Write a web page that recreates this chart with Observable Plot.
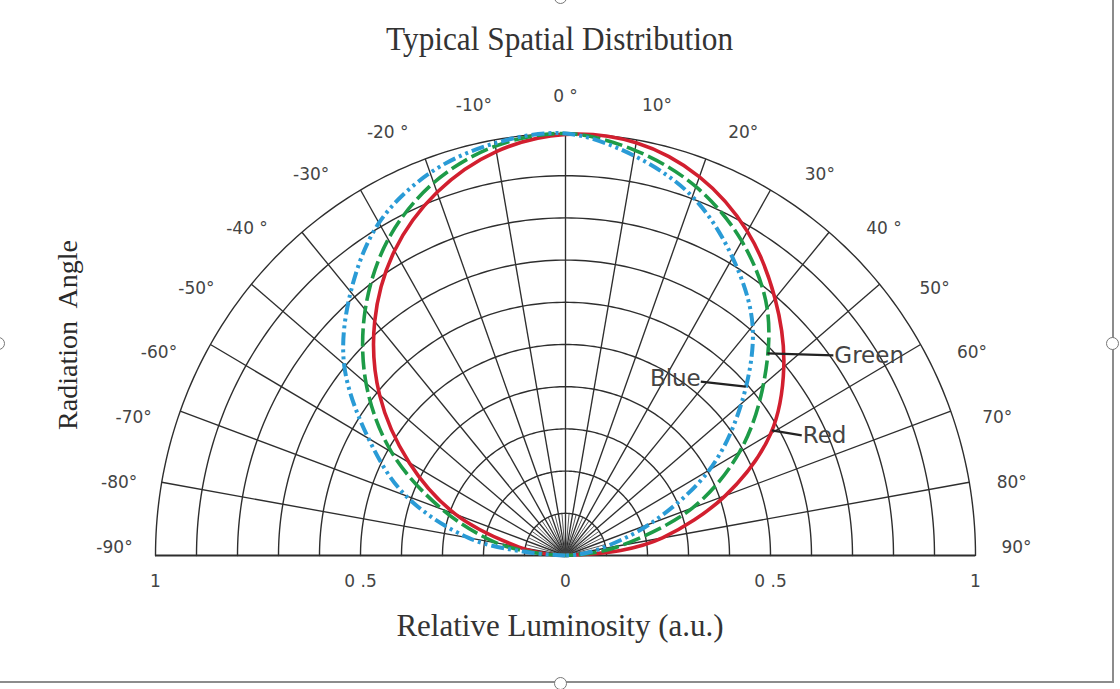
<!DOCTYPE html>
<html>
<head>
<meta charset="utf-8">
<script src="https://cdn.jsdelivr.net/npm/d3@7"></script>
<script src="https://cdn.jsdelivr.net/npm/@observablehq/plot@0.6"></script>
<style>
html,body{margin:0;padding:0;background:#fff;}
#wrap{position:relative;width:1120px;height:689px;overflow:hidden;background:#fff;}
#frame{position:absolute;left:-4px;top:-4px;width:1116px;height:685px;border-right:2px solid #8c8c8c;border-bottom:2px solid #8c8c8c;}
.handle{position:absolute;width:11px;height:11px;border:1.5px solid #777;border-radius:50%;background:#fff;}
#title{position:absolute;left:0;top:18px;width:1120px;text-align:center;font-family:"Liberation Serif","Times New Roman",serif;font-size:34px;color:#333;line-height:42px;}
#title span{display:inline-block;transform:scaleX(0.92);}
#chart{position:absolute;left:0;top:70px;}
#xlabel{position:absolute;left:0;top:607px;width:1120px;text-align:center;font-family:"Liberation Serif","Times New Roman",serif;font-size:31px;color:#333;line-height:38px;}
#ylabel{position:absolute;left:68px;top:335px;transform:translate(-50%,-50%) rotate(-90deg);white-space:pre;font-family:"Liberation Serif","Times New Roman",serif;font-size:28px;color:#2a2a2a;line-height:32px;}
</style>
</head>
<body>
<div id="wrap">
  <div id="frame"></div>
  <div class="handle" style="left:554px;top:677px;"></div>
  <div class="handle" style="left:1106px;top:337px;"></div>
  <div class="handle" style="left:-8px;top:337px;"></div>
  <div class="handle" style="left:554px;top:-9px;"></div>
  <div id="title"><span>Typical Spatial Distribution</span></div>
  <div id="chart"></div>
  <div id="xlabel">Relative Luminosity (a.u.)</div>
  <div id="ylabel">Radiation  Angle</div>
</div>
<script>
// ---------------- data ----------------
const angleTicks = [-90,-80,-70,-60,-50,-40,-30,-20,-10,0,10,20,30,40,50,60,70,80,90];
const angleTickLabels = ["-90°","-80°","-70°","-60°","-50°","-40 °","-30°","-20 °","-10°","0 °","10°","20°","30°","40 °","50°","60°","70°","80°","90°"];
const radialTicks = [-1,-0.5,0,0.5,1];
const radialTickLabels = ["1","0 .5","0","0 .5","1"];
const gridRadii = [0.1,0.2,0.3,0.4,0.5,0.6,0.7,0.8,0.9,1.0];

const redAngles = [-90,-85,-80,-70,-60,-50,-40,-30,-20,-10,0,10,20,30,40,50,60,70,80,85,90];
const redValues = [0,0.05,0.115,0.285,0.44,0.592,0.724,0.834,0.916,0.972,0.998,0.993,0.955,0.887,0.795,0.695,0.578,0.415,0.24,0.135,0];

const greenAngles = [-90,-85,-80,-70,-60,-50,-40,-30,-20,-10,0,10,20,30,40,50,60,70,80,85,90];
const greenValues = [0,0.07,0.17,0.32,0.49,0.635,0.76,0.865,0.94,0.985,1.0,0.975,0.93,0.86,0.765,0.63,0.49,0.33,0.14,0.06,0];

const blueAngles = [-90,-85,-80,-70,-60,-50,-40,-30,-20,-10,0,10,20,30,40,50,60,70,80,85,90];
const blueValues = [0,0.1,0.24,0.415,0.555,0.705,0.815,0.91,0.965,0.992,1.0,0.962,0.905,0.815,0.71,0.56,0.405,0.22,0.08,0.035,0];

const seriesNames = ["Red","Green","Blue"];
const seriesColors = ["#d21f2f","#1d9b47","#2a9bd6"];
const labelAngles = [59.5,45.8,47.7]; // angle at which each label's leader touches its curve

// ---------------- layout ----------------
const W = 1120, H = 530;
const CX = 565, CY = 485, RX = 410, RY = 422;
const rad = d => d * Math.PI / 180;
const px = (r, a) => r * Math.sin(rad(a));
const py = (r, a) => r * Math.cos(rad(a));

const arcPts = [];
for (const r of gridRadii) for (let a = -90; a <= 90; a += 1) arcPts.push({r, x: px(r,a), y: py(r,a)});
const spokes = d3.range(-80, 81, 10).map(a => ({a, x1: 0, y1: 0, x2: px(1,a), y2: py(1,a)}));
const innerSpokes = d3.range(-85, 86, 10).map(a => ({a, x1: 0, y1: 0, x2: px(0.1,a), y2: py(0.1,a)}));

const angleLabelRows = angleTicks.map((a, i) => {
  const disp = a + 5 * Math.sin(rad(2 * a));
  return {text: angleTickLabels[i], x: 1.1 * Math.sin(rad(disp)), y: 1.07 * Math.cos(rad(disp)) + 0.018};
});
const radialRows = radialTicks.map((v, i) => ({x: v, text: radialTickLabels[i]}));

function rows(name, angles, values) {
  return angles.map((a, i) => ({series: name, a, r: values[i], x: px(values[i], a), y: py(values[i], a)}));
}
const red = rows("Red", redAngles, redValues);
const green = rows("Green", greenAngles, greenValues);
const blue = rows("Blue", blueAngles, blueValues);

function radiusAt(angles, values, a) {
  const i = d3.bisectRight(angles, a) - 1;
  const t = (a - angles[i]) / (angles[i + 1] - angles[i]);
  return values[i] + t * (values[i + 1] - values[i]);
}
const seriesArrays = {Red: [redAngles, redValues], Green: [greenAngles, greenValues], Blue: [blueAngles, blueValues]};
// label end offsets in pixels (right, up)
const leaderOffsets = {Red: [30, -5], Green: [66, -2], Blue: [-45, 5]};
const leaders = seriesNames.map((name, i) => {
  const a = labelAngles[i];
  const r = radiusAt(...seriesArrays[name], a);
  const x1 = px(r, a), y1 = py(r, a);
  const [ox, oy] = leaderOffsets[name];
  return {name, x1, y1, x2: x1 + ox / RX, y2: y1 + oy / RY, anchor: ox < 0 ? "end" : "start"};
});

const font = "DejaVu Sans, Liberation Sans, Arial, sans-serif";
const chart = Plot.plot({
  width: W, height: H,
  marginTop: 0, marginRight: 0, marginBottom: 0, marginLeft: 0,
  x: {domain: [-CX / RX, (W - CX) / RX], axis: null},
  y: {domain: [-(H - CY) / RY, CY / RY], axis: null},
  style: {background: "transparent"},
  marks: [
    Plot.line(arcPts, {x: "x", y: "y", z: "r", stroke: "#2e2e2e", strokeWidth: 1.4}),
    Plot.link(spokes, {x1: "x1", y1: "y1", x2: "x2", y2: "y2", stroke: "#2e2e2e", strokeWidth: 1.35}),
    Plot.link(innerSpokes, {x1: "x1", y1: "y1", x2: "x2", y2: "y2", stroke: "#444", strokeWidth: 0.9}),
    Plot.ruleY([0], {x1: -1, x2: 1, stroke: "#2e2e2e", strokeWidth: 1.8}),
    Plot.text(angleLabelRows, {x: "x", y: "y", text: "text", fontSize: 17, fill: "#444", fontFamily: font}),
    Plot.text(radialRows, {x: "x", y: 0, dy: 26, text: "text", fontSize: 17, fill: "#444", fontFamily: font}),
    Plot.line(red, {x: "x", y: "y", stroke: seriesColors[0], strokeWidth: 3.6, curve: "catmull-rom"}),
    Plot.line(green, {x: "x", y: "y", stroke: seriesColors[1], strokeWidth: 3.6, curve: "catmull-rom", strokeDasharray: "18,5", strokeLinecap: "butt"}),
    Plot.line(blue, {x: "x", y: "y", stroke: seriesColors[2], strokeWidth: 4, curve: "catmull-rom", strokeDasharray: "13,4,3,4,3,4", strokeLinecap: "butt"}),
    Plot.link(leaders, {x1: "x1", y1: "y1", x2: "x2", y2: "y2", stroke: "#222", strokeWidth: 2.2}),
    Plot.text(leaders.filter(d => d.anchor === "start"), {x: "x2", y: "y2", text: "name", textAnchor: "start", dx: 1, fontSize: 23, fill: "#444", fontFamily: font}),
    Plot.text(leaders.filter(d => d.anchor === "end"), {x: "x2", y: "y2", text: "name", textAnchor: "end", dx: 0, dy: -3, fontSize: 23, fill: "#444", fontFamily: font})
  ]
});
document.getElementById("chart").appendChild(chart);
</script>
</body>
</html>
